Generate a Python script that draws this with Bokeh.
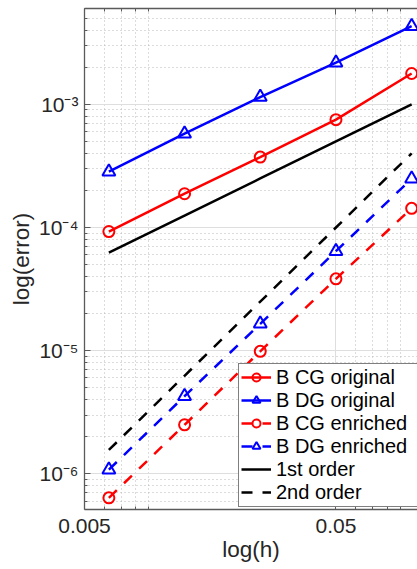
from bokeh.plotting import figure
from bokeh.models import FixedTicker, LogAxis, Legend, LegendItem
from bokeh.embed import file_html
from bokeh.resources import INLINE

# ---- data ----
h = [1/160, 1/80, 1/40, 1/20, 1/10]
cg_original = [9.27e-5, 1.88e-4, 3.73e-4, 7.51e-4, 1.78e-3]
dg_original = [2.84e-4, 5.78e-4, 1.146e-3, 2.18e-3, 4.31e-3]
cg_enriched = [6.38e-7, 2.50e-6, 9.87e-6, 3.83e-5, 1.43e-4]
dg_enriched = [1.08e-6, 4.27e-6, 1.65e-5, 6.42e-5, 2.49e-4]
first_order = [6.25e-5, 1.25e-4, 2.5e-4, 5e-4, 1e-3]
second_order = [1.5625e-6, 6.25e-6, 2.5e-5, 1e-4, 4e-4]

x_ticks = [0.005, 0.05]
x_tick_labels = ["0.005", "0.05"]
x_minor = [0.006, 0.007, 0.008, 0.009, 0.06, 0.07, 0.08, 0.09]
y_ticks = [1e-6, 1e-5, 1e-4, 1e-3]
y_tick_labels = ["10\u207b\u2076", "10\u207b\u2075", "10\u207b\u2074", "10\u207b\u00b3"]
y_minor = [k * 10.0 ** e for e in range(-7, -2) for k in range(2, 10)]

FONT = "Liberation Sans"
TXT = "#262626"
AX = "#5a5a5a"

p = figure(width=417, height=569, x_axis_type="log", y_axis_type="log",
           x_range=(0.005, 0.1055), y_range=(5.13e-7, 6.0e-3),
           output_backend="svg", toolbar_location=None,
           min_border_left=84, min_border_right=0, min_border_top=8,
           min_border_bottom=60, background_fill_color="white",
           border_fill_color="white")
p.outline_line_color = None

xt = FixedTicker(ticks=x_ticks, minor_ticks=x_minor)
yt = FixedTicker(ticks=y_ticks, minor_ticks=y_minor)

xa = p.xaxis[0]
xa.ticker = xt
xa.major_label_overrides = {t: l for t, l in zip(x_ticks, x_tick_labels)}
xa.axis_label = "log(h)"
ya = p.yaxis[0]
ya.ticker = yt
ya.major_label_overrides = {t: l for t, l in zip(y_ticks, y_tick_labels)}
ya.axis_label = "log(error)"

for a in (xa, ya):
    a.axis_line_color = AX
    a.axis_line_width = 1.3
    a.major_tick_line_color = AX
    a.minor_tick_line_color = AX
    a.major_tick_in = 6
    a.major_tick_out = 0
    a.minor_tick_in = 3
    a.minor_tick_out = 0
    a.major_label_text_font = FONT
    a.major_label_text_font_size = "21px"
    a.major_label_text_color = TXT
    a.axis_label_text_font = FONT
    a.axis_label_text_font_size = "22.5px"
    a.axis_label_text_font_style = "normal"
    a.axis_label_text_color = TXT
xa.major_label_standoff = 9
xa.axis_label_standoff = 1
ya.major_label_standoff = 6
ya.axis_label_standoff = 2

top = LogAxis(ticker=xt, major_label_text_font_size="0px", major_label_standoff=0,
              axis_line_color=AX, axis_line_width=1.3,
              major_tick_line_color=AX, minor_tick_line_color=AX,
              major_tick_in=6, major_tick_out=0, minor_tick_in=3, minor_tick_out=0)
top.major_label_overrides = {t: "" for t in x_ticks}
p.add_layout(top, "above")

for g in (p.xgrid[0], p.ygrid[0]):
    g.grid_line_color = "#dedede"
    g.grid_line_width = 1
    g.minor_grid_line_color = "#b8b8b8"
    g.minor_grid_line_dash = "1 3"
    g.minor_grid_line_width = 1
p.xgrid[0].ticker = xt
p.ygrid[0].ticker = yt

LW = 2.5
DASH = "11 10"
items = []
def series(ys, color, marker, dash, label, size):
    r1 = p.line(h, ys, line_color=color, line_width=LW, line_dash=dash)
    r2 = p.scatter(h, ys, marker=marker, size=size, line_color=color,
                   line_width=2, fill_alpha=0)
    items.append(LegendItem(label=label, renderers=[r1, r2]))

series(cg_original, "#ff0000", "circle", "solid", "B CG original", 11)
series(dg_original, "#0000ff", "triangle", "solid", "B DG original", 13)
series(cg_enriched, "#ff0000", "circle", DASH, "B CG enriched", 11)
series(dg_enriched, "#0000ff", "triangle", DASH, "B DG enriched", 13)
r = p.line(h, first_order, line_color="black", line_width=LW)
items.append(LegendItem(label="1st order", renderers=[r]))
r = p.line(h, second_order, line_color="black", line_width=LW, line_dash=DASH)
items.append(LegendItem(label="2nd order", renderers=[r]))

legend = Legend(items=items, location=(154, 2.3),
                label_text_font=FONT, label_text_font_size="20px",
                label_text_color="black", border_line_color="black",
                border_line_width=1.3, background_fill_color="white",
                background_fill_alpha=1, padding=2, spacing=0, margin=0,
                glyph_width=30, glyph_height=20, label_height=20,
                label_width=150, label_standoff=5)
p.add_layout(legend)

open("out.html", "w").write(file_html(p, INLINE))
